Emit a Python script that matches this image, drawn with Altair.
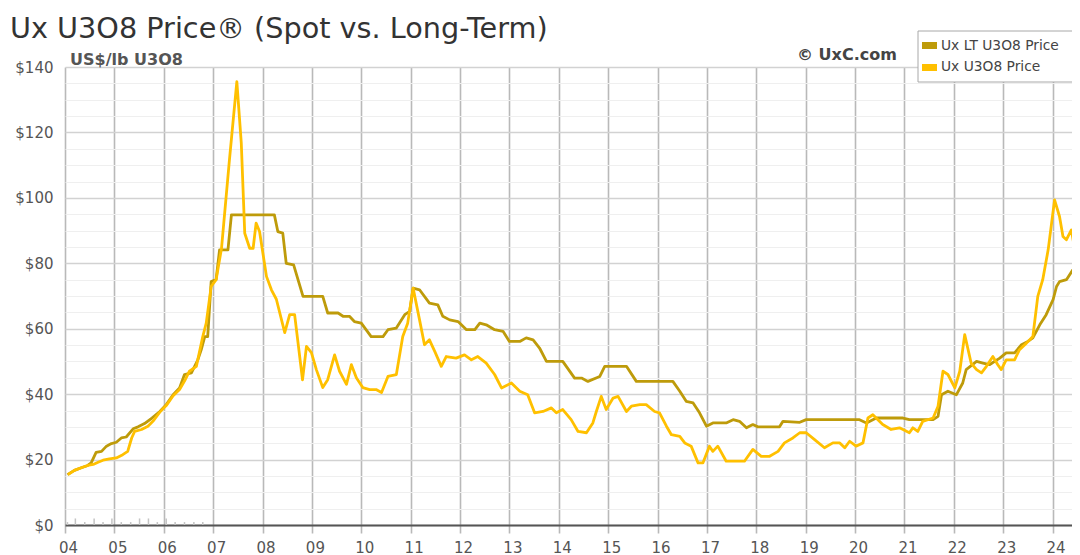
import altair as alt
import pandas as pd

# ---------------- data ----------------
spot_year = [2004.06, 2004.19, 2004.33, 2004.46, 2004.57, 2004.67, 2004.77, 2004.90,
             2005.04, 2005.17, 2005.27, 2005.35, 2005.41, 2005.55, 2005.68, 2005.78, 2005.92,
             2006.05, 2006.19, 2006.32, 2006.42, 2006.52, 2006.66, 2006.79, 2006.86, 2006.96,
             2007.06, 2007.17, 2007.33, 2007.48, 2007.57, 2007.64, 2007.74, 2007.81, 2007.87, 2007.94,
             2008.08, 2008.18, 2008.28, 2008.45, 2008.55, 2008.65, 2008.81, 2008.89, 2008.99,
             2009.09, 2009.22, 2009.32, 2009.46, 2009.56, 2009.70, 2009.80, 2009.90,
             2010.03, 2010.17, 2010.30, 2010.41, 2010.54, 2010.71, 2010.84, 2010.94,
             2011.05, 2011.18, 2011.28, 2011.38, 2011.49, 2011.62, 2011.72, 2011.92,
             2012.09, 2012.23, 2012.36, 2012.53, 2012.70, 2012.84,
             2013.04, 2013.21, 2013.37, 2013.51, 2013.68, 2013.85, 2013.95,
             2014.08, 2014.25, 2014.39, 2014.56, 2014.69, 2014.76, 2014.86, 2014.96,
             2015.10, 2015.20, 2015.37, 2015.47, 2015.64, 2015.77, 2015.94,
             2016.04, 2016.18, 2016.28, 2016.45, 2016.55, 2016.68, 2016.82, 2016.92,
             2017.05, 2017.12, 2017.22, 2017.39, 2017.53, 2017.76, 2017.93,
             2018.10, 2018.27, 2018.44, 2018.57, 2018.74, 2018.88,
             2019.01, 2019.18, 2019.38, 2019.55, 2019.69, 2019.79, 2019.89,
             2020.02, 2020.16, 2020.26, 2020.36, 2020.56, 2020.73, 2020.90,
             2021.10, 2021.17, 2021.27, 2021.37, 2021.58, 2021.68, 2021.78, 2021.88,
             2022.02, 2022.12, 2022.22, 2022.35, 2022.46, 2022.56, 2022.66, 2022.79, 2022.89, 2022.96,
             2023.06, 2023.23, 2023.33, 2023.47, 2023.60, 2023.70, 2023.80, 2023.91,
             2024.04, 2024.14, 2024.21, 2024.28, 2024.38, 2024.45, 2024.55, 2024.62]
spot_price = [15.4, 16.7, 17.5, 18.2, 18.5, 19.2, 19.8, 20.2,
              20.5, 21.5, 22.5, 26.6, 28.6, 29.2, 30.2, 31.7, 34.5,
              36.5, 39.5, 41.4, 44.0, 47.0, 48.5, 57.6, 61.7, 72.9,
              75.0, 84.6, 111.6, 135.5, 116.7, 89.2, 84.6, 84.6, 92.3, 89.7,
              76.0, 71.9, 69.0, 58.8, 64.3, 64.3, 44.4, 54.6, 52.7,
              47.5, 42.0, 44.4, 52.0, 47.0, 43.0, 49.0, 45.0,
              42.0, 41.4, 41.4, 40.5, 45.4, 46.0, 57.6, 61.7,
              72.4, 62.7, 55.1, 56.6, 53.0, 48.5, 51.5, 51.0,
              52.0, 50.5, 51.5, 49.5, 46.0, 41.9,
              43.4, 40.9, 39.8, 34.3, 34.7, 35.8, 34.3,
              35.3, 32.2, 28.6, 28.2, 31.2, 34.7, 39.3, 35.3,
              38.8, 39.3, 34.7, 36.3, 36.8, 36.8, 34.7,
              34.3, 30.2, 27.6, 27.1, 25.1, 24.1, 19.0, 19.0,
              24.1, 22.5, 24.1, 19.5, 19.5, 19.5, 23.1,
              21.0, 21.0, 22.5, 25.1, 26.6, 28.2,
              28.2, 26.1, 23.6, 25.1, 25.1, 23.6, 25.6,
              24.1, 25.1, 32.7, 33.7, 30.7, 29.2, 29.7,
              28.2, 29.7, 28.6, 31.7, 32.7, 36.3, 47.0, 46.0,
              41.9, 47.0, 58.2, 49.5, 47.5, 46.5, 48.5, 51.5, 49.0, 47.5,
              50.5, 50.5, 53.6, 55.6, 57.6, 69.9, 75.0, 84.1,
              99.4, 94.3, 88.2, 87.2, 90.2, 84.1, 81.0, 80.0]

lt_year = [2004.05, 2004.19, 2004.33, 2004.46, 2004.53, 2004.63, 2004.74, 2004.84, 2004.94,
           2005.04, 2005.14, 2005.24, 2005.38, 2005.48, 2005.61, 2005.76, 2005.92,
           2006.05, 2006.19, 2006.32, 2006.42, 2006.56, 2006.69, 2006.76, 2006.83, 2006.89, 2006.96,
           2007.06, 2007.13, 2007.30, 2007.37,
           2008.24, 2008.31, 2008.41, 2008.48, 2008.63, 2008.82,
           2009.22, 2009.32, 2009.53, 2009.63, 2009.76, 2009.86,
           2010.00, 2010.20, 2010.44, 2010.54, 2010.71, 2010.88, 2010.98,
           2011.05, 2011.18, 2011.38, 2011.55, 2011.65, 2011.79, 2011.96,
           2012.13, 2012.30, 2012.40, 2012.53, 2012.70, 2012.87,
           2013.00, 2013.21, 2013.34, 2013.48, 2013.61, 2013.75,
           2014.08, 2014.32, 2014.46, 2014.59, 2014.83, 2014.93,
           2015.37, 2015.57, 2016.31, 2016.45, 2016.58, 2016.72, 2016.85, 2016.99,
           2017.12, 2017.39, 2017.53, 2017.66, 2017.80, 2017.93,
           2018.03, 2018.47, 2018.54, 2018.88, 2019.01,
           2020.09, 2020.23, 2020.43, 2020.97, 2021.10, 2021.58, 2021.68, 2021.75, 2021.88,
           2022.05, 2022.18, 2022.25, 2022.46, 2022.59, 2022.72, 2022.93,
           2023.06, 2023.23, 2023.37, 2023.50, 2023.60, 2023.74, 2023.87,
           2024.01, 2024.08, 2024.14, 2024.28, 2024.41, 2024.55, 2024.62]
lt_price = [15.4, 16.7, 17.5, 18.2, 19.0, 22.2, 22.5, 24.1, 24.9,
            25.3, 26.6, 26.9, 29.4, 30.0, 31.0, 32.7, 34.7,
            36.8, 39.8, 41.9, 46.0, 46.5, 50.5, 53.6, 57.6, 57.6, 74.4,
            75.0, 84.1, 84.1, 94.8,
            94.8, 89.7, 89.2, 80.0, 79.5, 69.9,
            69.9, 64.8, 64.8, 63.8, 63.8, 62.2,
            61.7, 57.6, 57.6, 59.7, 60.2, 64.3, 65.3,
            72.4, 71.9, 67.8, 67.3, 63.8, 62.7, 62.2,
            59.7, 59.7, 61.7, 61.2, 59.7, 59.2,
            56.1, 56.1, 57.2, 56.6, 54.1, 50.0,
            50.0, 44.9, 44.9, 43.9, 45.4, 48.5,
            48.5, 43.9, 43.9, 40.9, 37.8, 37.3, 34.3, 30.2,
            31.2, 31.2, 32.2, 31.7, 29.7, 30.7,
            30.0, 30.0, 31.7, 31.4, 32.2,
            32.2, 31.2, 32.7, 32.7, 32.2, 32.2, 33.2, 39.8, 40.9,
            39.8, 43.4, 47.5, 50.0, 49.5, 49.0, 51.0,
            52.6, 52.6, 55.1, 56.1, 57.2, 61.2, 64.3,
            68.9, 72.9, 74.4, 75.0, 78.0, 79.0, 79.5]

# tiny marks along the baseline in 2004-2006
mini_year = [2004.05, 2004.21, 2004.40, 2004.59, 2004.77, 2004.95, 2005.14, 2005.33,
             2005.51, 2005.69, 2005.87, 2006.05, 2006.23, 2006.42, 2006.61, 2006.79]
mini_val = [0.9, 2.0, 0.9, 2.0, 0.9, 2.0, 0.9, 0.9,
            2.0, 2.0, 0.9, 2.0, 0.9, 0.9, 0.9, 0.9]

year_ticks = list(range(2004, 2025))
price_ticks = list(range(0, 141, 5))

title_text = "Ux U3O8 Price® (Spot vs. Long-Term)"
unit_text = "US$/lb U3O8"
credit_text = "© UxC.com"
legend_names = ["Ux LT U3O8 Price", "Ux U3O8 Price"]

LT_COLOR = "#BE9B0A"
SPOT_COLOR = "#FFC000"
FONT = "DejaVu Sans"

spot_df = pd.DataFrame({"year": spot_year, "price": spot_price})
lt_df = pd.DataFrame({"year": lt_year, "price": lt_price})
mini_df = pd.DataFrame({"year": mini_year, "price": mini_val})
one = pd.DataFrame({"k": [0]})

PLOT_W = 1007
x_scale = alt.Scale(domain=[2004, 2004 + PLOT_W / 49.38], nice=False, zero=False)
y_scale = alt.Scale(domain=[0, 140], nice=False)

major = "datum.value % 20 === 0"
x_axis = alt.Axis(values=year_ticks, labelExpr="format(datum.value - 2000, '02d')",
                  grid=True, gridColor="#b9b9b9", gridWidth=1.6,
                  ticks=True, tickColor="#b9b9b9", tickWidth=1.6, tickSize=8,
                  domain=True, domainColor="#555555", domainWidth=2,
                  labelFont=FONT, labelFontSize=15, labelColor="#555555",
                  labelPadding=7, labelOffset=3, labelFlush=False, labelOverlap=False,
                  title=None)
y_axis = alt.Axis(values=price_ticks,
                  labelExpr="datum.value % 20 === 0 ? '$' + datum.value : ''",
                  grid=True,
                  gridColor={"condition": {"test": major, "value": "#d2d2d2"}, "value": "#efefef"},
                  gridWidth={"condition": {"test": major, "value": 1.6}, "value": 1.2},
                  ticks=False, domain=False,
                  labelFont=FONT, labelFontSize=15, labelColor="#555555",
                  labelPadding=12, labelOverlap=False, title=None)

X = alt.X("year:Q", scale=x_scale, axis=x_axis)
Y = alt.Y("price:Q", scale=y_scale, axis=y_axis)

mini = alt.Chart(mini_df).mark_rule(color="#c4c4c4", strokeWidth=1.5).encode(
    x=X, y=Y, y2=alt.datum(0))

lt_line = alt.Chart(lt_df).mark_line(color=LT_COLOR, strokeWidth=2.8, clip=True,
                                     strokeJoin="round").encode(x=X, y=Y)
spot_line = alt.Chart(spot_df).mark_line(color=SPOT_COLOR, strokeWidth=2.8, clip=True,
                                         strokeJoin="round").encode(x=X, y=Y)

# legend (drawn by hand, running to the right edge like the reference)
legend_box = alt.Chart(one).mark_rect(fill="white", stroke="#a8a8a8", strokeWidth=1).encode(
    x=alt.value(853), x2=alt.value(1040), y=alt.value(-36), y2=alt.value(15))
sw1 = alt.Chart(one).mark_rect(fill=LT_COLOR).encode(
    x=alt.value(857), x2=alt.value(872), y=alt.value(-25), y2=alt.value(-18))
sw2 = alt.Chart(one).mark_rect(fill=SPOT_COLOR).encode(
    x=alt.value(857), x2=alt.value(872), y=alt.value(-3), y2=alt.value(4))
leg_t1 = alt.Chart(one).mark_text(text=legend_names[0], font=FONT, fontSize=13.8, color="#444444",
                                  align="left", baseline="alphabetic").encode(
    x=alt.value(876), y=alt.value(-17))
leg_t2 = alt.Chart(one).mark_text(text=legend_names[1], font=FONT, fontSize=13.8, color="#444444",
                                  align="left", baseline="alphabetic").encode(
    x=alt.value(876), y=alt.value(4))

title = alt.Chart(one).mark_text(text=title_text, font=FONT, fontSize=28.7, color="#333333",
                                 align="left", baseline="alphabetic").encode(
    x=alt.value(-55), y=alt.value(-29))
unit = alt.Chart(one).mark_text(text=unit_text, font=FONT, fontSize=16, fontWeight="bold",
                                color="#555555", align="left", baseline="alphabetic").encode(
    x=alt.value(5), y=alt.value(-2))
credit = alt.Chart(one).mark_text(text=credit_text, font=FONT, fontSize=16, fontWeight="bold",
                                  color="#444444", align="left", baseline="alphabetic").encode(
    x=alt.value(732), y=alt.value(-7))

chart = alt.layer(
    mini, lt_line, spot_line, legend_box, sw1, sw2, leg_t1, leg_t2, title, unit, credit
).properties(
    width=PLOT_W, height=458,
    autosize=alt.AutoSizeParams(type="none"),
    padding={"left": 57, "top": 59, "right": 0, "bottom": 30},
    background="white",
).configure_view(stroke=None)

chart.save("out.html", embed_options={"renderer": "svg", "actions": False})
